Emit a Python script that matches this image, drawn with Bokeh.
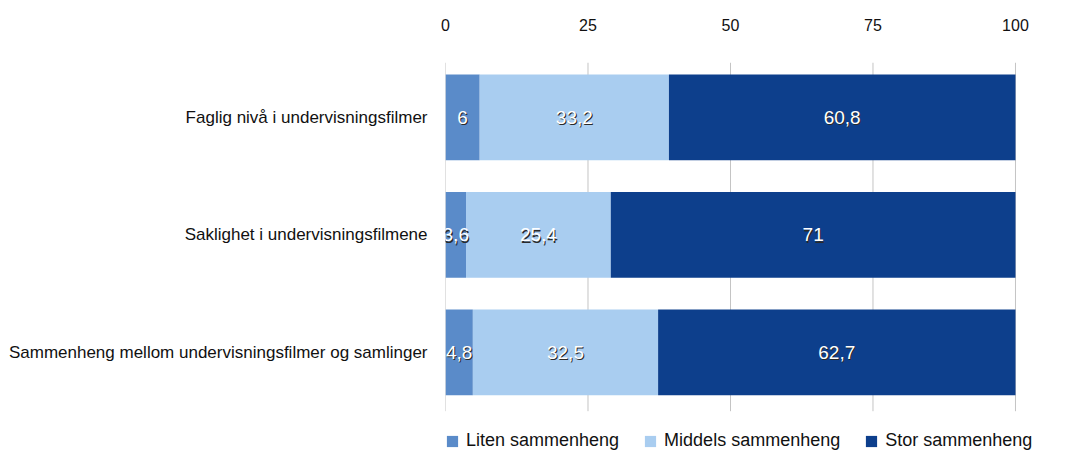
from bokeh.plotting import figure
from bokeh.models import ColumnDataSource, Range1d, Legend, LegendItem, FixedTicker
from bokeh.core.properties import value
from bokeh.embed import file_html
from bokeh.resources import INLINE

categories = ["Faglig nivå i undervisningsfilmer",
              "Saklighet i undervisningsfilmene",
              "Sammenheng mellom undervisningsfilmer og samlinger"]
series_names = ["Liten sammenheng", "Middels sammenheng", "Stor sammenheng"]
liten = [6, 3.6, 4.8]
middels = [33.2, 25.4, 32.5]
stor = [60.8, 71, 62.7]
ticks = [0, 25, 50, 75, 100]

colors = ["#5a8bc9", "#a9cdf0", "#0d3f8c"]
FONT = "Liberation Sans"
keys = ["liten", "middels", "stor"]

def fmt(v):
    return ("%g" % v).replace(".", ",")

n = len(categories)
ypos = [n - 1 - i for i in range(n)]  # first category on top
src = ColumnDataSource(dict(y=ypos, liten=liten, middels=middels, stor=stor))

p = figure(width=1067, height=451, output_backend="svg", toolbar_location=None,
           y_range=Range1d(-0.843, 2.468), x_range=Range1d(0, 107.9),
           x_axis_location="above", min_border_left=445, min_border_right=7,
           min_border_top=62, min_border_bottom=0)
p.outline_line_color = None
p.background_fill_color = "white"
p.xgrid.grid_line_color = None
p.ygrid.grid_line_color = None

# grid lines
p.segment(x0=ticks, x1=ticks, y0=[-0.5] * len(ticks), y1=[2.468] * len(ticks),
          line_color="#c4c4c4", line_width=1)

renderers = p.hbar_stack(keys, y="y", height=0.73, source=src,
                         color=colors, line_color=None)

# value labels
for i, key in enumerate(keys):
    vals = src.data[key]
    xs = []
    for j in range(n):
        left = sum(src.data[k][j] for k in keys[:i])
        xs.append(left + vals[j] / 2)
    ls = ColumnDataSource(dict(x=xs, y=ypos, t=[fmt(v) for v in vals]))
    p.text(x="x", y="y", text="t", source=ls, text_align="center", text_baseline="middle",
           text_font=value(FONT), text_font_size="19px", text_color="#2a2a2a",
           x_offset=1, y_offset=1.5)
    p.text(x="x", y="y", text="t", source=ls, text_align="center", text_baseline="middle",
           text_font=value(FONT), text_font_size="19px", text_color="white")

# axes
xa = p.xaxis[0]
xa.ticker = FixedTicker(ticks=ticks)
xa.axis_line_color = None
xa.major_tick_line_color = None
xa.minor_tick_line_color = None
xa.major_label_standoff = 26
xa.major_label_text_font = FONT
xa.major_label_text_font_size = "16px"
xa.major_label_text_color = "#111111"

ya = p.yaxis[0]
ya.ticker = FixedTicker(ticks=ypos)
ya.major_label_overrides = {y: c for y, c in zip(ypos, categories)}
ya.axis_line_color = None
ya.major_tick_line_color = None
ya.minor_tick_line_color = None
ya.major_label_standoff = 12
ya.major_label_text_font = FONT
ya.major_label_text_font_size = "17px"
ya.major_label_text_color = "#111111"

legend = Legend(items=[LegendItem(label=nm, renderers=[r]) for nm, r in zip(series_names, renderers)],
                orientation="horizontal", location=(0, 0))
legend.label_text_font = FONT
legend.label_text_font_size = "18px"
legend.label_text_color = "#111111"
legend.glyph_width = 14
legend.glyph_height = 14
legend.spacing = 24
legend.padding = 2
legend.margin = 0
legend.border_line_color = None
legend.background_fill_alpha = 1.0
legend.label_standoff = 7
p.add_layout(legend)

open("out.html", "w").write(file_html(p, INLINE))
